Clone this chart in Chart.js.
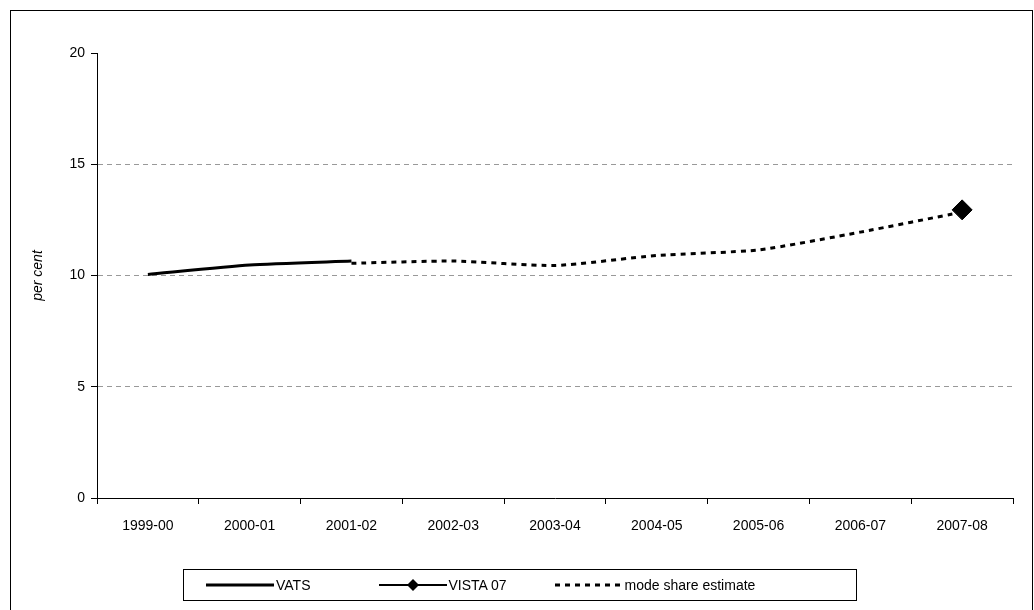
<!DOCTYPE html>
<html><head><meta charset="utf-8">
<script src="https://cdn.jsdelivr.net/npm/chart.js@4"></script>
<style>
body{margin:0;background:#fff;font-family:"Liberation Sans",Arial,sans-serif;}
#wrap{position:relative;width:1034px;height:610px;overflow:hidden;}
#frame{position:absolute;left:10px;top:10px;width:1021px;height:620px;border:1px solid #000;}
#c{position:absolute;left:0;top:0;}
#legend{position:absolute;left:183px;top:569px;width:672px;height:30px;border:1px solid #000;display:flex;align-items:center;font-size:14px;}
.item{display:flex;align-items:center;margin-left:20px;}
.item svg{margin-right:2px;}
</style></head>
<body><div id="wrap"><div id="frame"></div><canvas id="c" width="1034" height="610"></canvas>
<div id="legend">
<div class="item" style="margin-left:22px"><svg width="68" height="12"><line x1="0" y1="6" x2="68" y2="6" stroke="#000" stroke-width="3"/></svg>VATS</div>
<div class="item" style="margin-left:68px"><svg width="68" height="16"><line x1="0" y1="8" x2="68" y2="8" stroke="#000" stroke-width="2"/><polygon points="34,2 40,8 34,14 28,8" fill="#000"/></svg>VISTA 07</div>
<div class="item" style="margin-left:48px"><svg width="68" height="12"><line x1="0" y1="6" x2="68" y2="6" stroke="#000" stroke-width="3" stroke-dasharray="5,5"/></svg>mode share estimate</div>
</div></div>
<script>
const years = ['1999-00','2000-01','2001-02','2002-03','2003-04','2004-05','2005-06','2006-07','2007-08'];
const vats = [10.05, 10.47, 10.65, null, null, null, null, null, null];
const vista = [null, null, null, null, null, null, null, null, 12.95];
const estimate = [null, null, 10.55, 10.65, 10.45, 10.9, 11.15, 11.95, 12.85];

new Chart(document.getElementById('c'), {
    type: 'line',
    data: {
        labels: years,
        datasets: [
            { data: vats, borderColor: '#000', borderWidth: 3, pointRadius: 0, tension: 0.2 },
            { data: estimate, borderColor: '#000', borderWidth: 3, borderDash: [5, 5], pointRadius: 0, tension: 0.2 },
            { data: vista, borderColor: '#000', backgroundColor: '#000', pointStyle: 'rectRot', pointRadius: 10, showLine: false }
        ]
    },
    options: {
        responsive: false,
        animation: false,
        layout: { padding: { top: 53, right: 21, left: 30, bottom: 0 } },
        plugins: { legend: { display: false }, tooltip: { enabled: false } },
        scales: {
            x: {
                offset: true,
                border: { color: '#000', width: 1 },
                grid: { offset: true, drawOnChartArea: false, tickColor: '#000', tickLength: 6 },
                ticks: { color: '#000', font: { size: 14, family: 'Liberation Sans' }, maxRotation: 0, padding: 14 },
                afterFit: s => { s.height = 112; }
            },
            y: {
                min: 0, max: 20,
                border: { color: '#000', width: 1, dash: [5, 4] },
                grid: {
                    color: c => (c.tick.value === 0 || c.tick.value === 20) ? 'rgba(0,0,0,0)' : '#999',
                    tickColor: '#000', tickLength: 6, tickBorderDash: [1, 0]
                },
                ticks: { stepSize: 5, color: '#000', font: { size: 14, family: 'Liberation Sans' }, padding: 6 },
                title: { display: true, text: 'per cent', color: '#000', padding: 0, font: { size: 14, style: 'italic', family: 'Liberation Sans' } },
                afterFit: s => { s.width = 67; }
            }
        }
    }
});
</script></body></html>
